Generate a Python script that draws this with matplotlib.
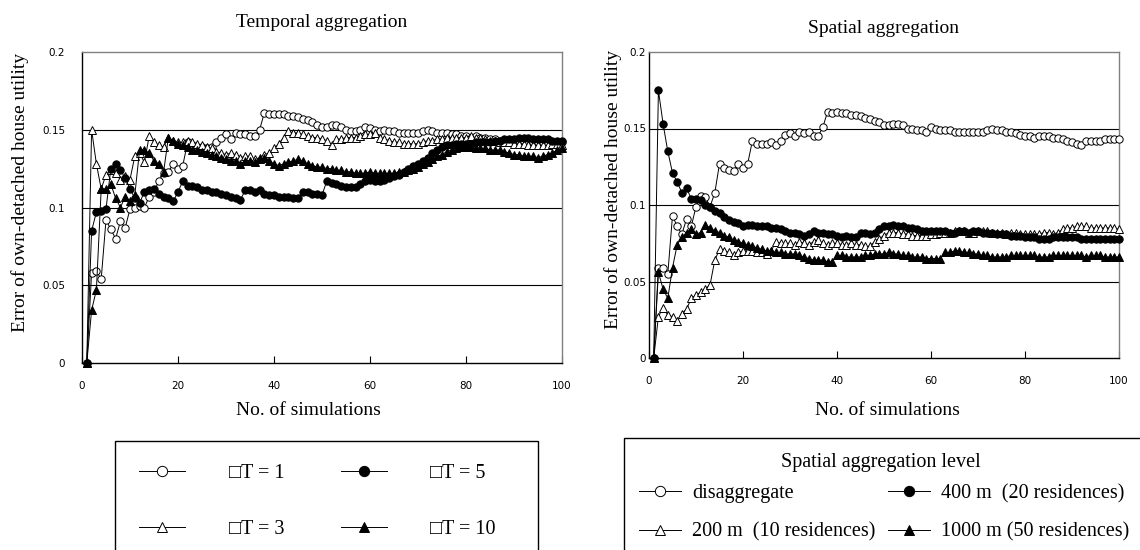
import numpy as np
import matplotlib
matplotlib.use("Agg")
import matplotlib.pyplot as plt
from matplotlib.patches import Rectangle

plt.rcParams['font.family'] = ['Liberation Serif', 'DejaVu Sans']

# ---------------- data ----------------
sims = list(range(1, 101))

temporal_labels = ["\u25a1T = 1", "\u25a1T = 3", "\u25a1T = 5", "\u25a1T = 10"]
t1 = [0, .058, .059, .054, .092, .086, .080, .091, .087, .099,
      .100, .101, .100, .107, .110, .117, .122, .123, .128, .125,
      .127, .142, .140, .139, .139, .138, .139, .142, .145, .147,
      .144, .148, .147, .147, .146, .146, .150, .161, .160, .160,
      .160, .160, .159, .159, .158, .157, .156, .155, .153, .152,
      .152, .153, .153, .152, .150, .149, .149, .150, .152, .151,
      .150, .149, .150, .149, .149, .148, .148, .148, .148, .148,
      .149, .150, .149, .148, .148, .148, .147, .147, .146, .146,
      .145, .146, .145, .145, .144, .144, .143, .143, .143, .142,
      .142, .142, .141, .142, .142, .142, .141, .141, .142, .142]
t3 = [0, .150, .128, .112, .121, .124, .122, .118, .120, .118,
      .133, .135, .129, .146, .142, .140, .139, .145, .143, .142,
      .142, .143, .142, .141, .140, .139, .138, .136, .135, .134,
      .135, .134, .132, .133, .133, .131, .132, .134, .135, .138,
      .141, .145, .149, .148, .148, .147, .146, .145, .145, .144,
      .143, .140, .144, .144, .145, .145, .145, .146, .147, .147,
      .148, .145, .144, .143, .142, .142, .141, .141, .141, .141,
      .142, .143, .143, .144, .144, .145, .145, .145, .145, .145,
      .146, .145, .145, .144, .143, .143, .142, .142, .142, .141,
      .141, .141, .140, .140, .140, .140, .140, .141, .141, .140]
t5 = [0, .085, .097, .098, .099, .125, .128, .124, .119, .112,
      .106, .103, .110, .111, .112, .109, .107, .106, .104, .110,
      .117, .114, .114, .113, .111, .111, .110, .110, .109, .108,
      .107, .106, .105, .111, .111, .110, .111, .109, .108, .108,
      .107, .107, .107, .106, .106, .110, .110, .109, .109, .108,
      .117, .116, .115, .114, .113, .113, .113, .115, .117, .118,
      .117, .117, .118, .119, .120, .121, .123, .125, .127, .128,
      .130, .132, .135, .137, .139, .140, .140, .141, .141, .141,
      .141, .142, .142, .142, .142, .143, .143, .144, .144, .144,
      .145, .145, .145, .144, .144, .144, .144, .143, .143, .143]
t10 = [0, .034, .047, .112, .112, .115, .106, .100, .107, .104,
       .108, .137, .137, .135, .130, .128, .123, .145, .143, .141,
       .140, .139, .137, .137, .136, .135, .134, .133, .132, .131,
       .130, .130, .128, .130, .130, .129, .131, .132, .130, .128,
       .127, .128, .129, .130, .131, .130, .128, .127, .126, .126,
       .125, .125, .124, .124, .123, .123, .122, .122, .122, .123,
       .122, .122, .122, .122, .122, .123, .123, .124, .125, .126,
       .128, .129, .131, .133, .134, .136, .137, .138, .139, .139,
       .139, .138, .138, .138, .137, .137, .137, .136, .135, .134,
       .134, .133, .133, .133, .132, .133, .134, .135, .137, .138]

spatial_title = "Spatial aggregation level"
spatial_labels = ["disaggregate", "200 m  (10 residences)",
                  "400 m  (20 residences)", "1000 m (50 residences)"]
s_dis = [0, .059, .059, .055, .093, .086, .081, .091, .086, .099,
         .106, .105, .099, .108, .127, .124, .123, .122, .127, .124,
         .127, .142, .140, .140, .140, .141, .139, .142, .146, .147,
         .145, .148, .147, .148, .145, .145, .151, .161, .160, .161,
         .160, .160, .159, .159, .158, .157, .156, .155, .154, .152,
         .152, .153, .153, .152, .150, .150, .149, .149, .148, .151,
         .150, .149, .149, .149, .148, .148, .148, .148, .148, .148,
         .148, .149, .150, .149, .149, .148, .148, .147, .146, .145,
         .145, .144, .145, .145, .145, .144, .144, .143, .142, .141,
         .140, .139, .142, .142, .142, .142, .143, .143, .143, .143]
s_200 = [0, .027, .033, .028, .027, .024, .029, .032, .039, .041,
         .043, .045, .048, .064, .071, .070, .069, .067, .069, .070,
         .070, .070, .069, .069, .068, .070, .076, .075, .075, .075,
         .074, .076, .075, .074, .076, .077, .075, .074, .075, .075,
         .074, .074, .075, .074, .074, .073, .073, .076, .078, .080,
         .082, .082, .082, .081, .081, .080, .080, .080, .080, .081,
         .081, .082, .082, .082, .083, .083, .083, .082, .082, .083,
         .083, .083, .082, .082, .082, .081, .082, .082, .081, .081,
         .081, .081, .081, .082, .082, .081, .082, .084, .085, .085,
         .086, .086, .086, .085, .085, .085, .085, .085, .085, .084]
s_400 = [0, .175, .153, .135, .121, .115, .108, .111, .104, .104,
         .103, .100, .099, .096, .095, .092, .090, .089, .088, .086,
         .087, .087, .086, .086, .086, .085, .085, .084, .083, .082,
         .082, .081, .080, .081, .083, .082, .082, .081, .081, .080,
         .079, .080, .079, .079, .082, .082, .081, .082, .084, .086,
         .086, .087, .086, .086, .085, .085, .084, .083, .083, .083,
         .083, .083, .083, .082, .082, .083, .083, .082, .083, .083,
         .082, .082, .082, .081, .081, .081, .080, .080, .080, .079,
         .079, .079, .078, .078, .078, .079, .079, .079, .079, .079,
         .079, .078, .078, .078, .078, .078, .078, .078, .078, .078]
s_1000 = [0, .056, .045, .039, .059, .074, .079, .082, .084, .081,
          .082, .087, .085, .083, .082, .080, .079, .077, .076, .075,
          .074, .073, .072, .071, .070, .070, .069, .069, .068, .068,
          .068, .067, .066, .065, .064, .064, .064, .063, .063, .067,
          .067, .066, .066, .066, .066, .067, .067, .068, .068, .068,
          .069, .068, .068, .067, .067, .066, .066, .066, .065, .065,
          .065, .065, .069, .069, .070, .070, .069, .069, .068, .068,
          .067, .067, .066, .066, .066, .066, .067, .067, .067, .067,
          .067, .067, .066, .066, .066, .067, .067, .067, .067, .067,
          .067, .067, .066, .067, .067, .067, .066, .066, .066, .066]

x_ticks = [0, 20, 40, 60, 80, 100]
y_ticks = [0, 0.05, 0.1, 0.15, 0.2]
y_tick_labels = ["0", "0.05", "0.1", "0.15", "0.2"]
ylabel = "Error of own-detached house utility"
xlabel = "No. of simulations"
titles = ["Temporal aggregation", "Spatial aggregation"]

# ---------------- figure ----------------
W, H = 1140, 550
fig = plt.figure(figsize=(W / 100, H / 100), dpi=100)


def px_axes(l, t, r, b):
    return fig.add_axes([l / W, 1 - b / H, (r - l) / W, (b - t) / H])


def px_box(l, t, r, b):
    fig.patches.append(Rectangle((l / W, 1 - b / H), (r - l) / W, (b - t) / H,
                                 transform=fig.transFigure, fill=False,
                                 edgecolor='black', lw=1.0))


ax1 = px_axes(82, 52, 562, 363)
ax2 = px_axes(649, 52, 1119, 358)

styles = [dict(marker='o', mfc='white'), dict(marker='^', mfc='white'),
          dict(marker='o', mfc='black'), dict(marker='^', mfc='black')]


def setup(ax):
    ax.set_xlim(0, 100)
    ax.set_ylim(0, 0.2)
    ax.set_xticks(x_ticks)
    ax.set_yticks(y_ticks)
    ax.set_yticklabels(y_tick_labels)
    for v in y_ticks[1:-1]:
        ax.axhline(v, color='black', lw=0.8, zorder=1)
    ax.spines['top'].set_color('#808080')
    ax.spines['right'].set_color('#808080')
    ax.spines['left'].set_color('black')
    ax.spines['bottom'].set_color('black')
    for s in ax.spines.values():
        s.set_linewidth(1.0)
    ax.tick_params(axis='x', direction='in', length=5, width=0.8, pad=13,
                   labelsize=7.5)
    ax.tick_params(axis='y', length=0, labelsize=7.5)
    for lab in ax.get_xticklabels() + ax.get_yticklabels():
        lab.set_family('DejaVu Sans')


def plot_series(ax, series, labels):
    handles = []
    for ys, st, lab in zip(series, styles, labels):
        h, = ax.plot(sims, ys, color='black', lw=0.7, ms=5.3, mec='black',
                     mew=0.7, label=lab, clip_on=False, zorder=3, **st)
        handles.append(h)
    return handles


FS = 14

setup(ax1)
h1 = plot_series(ax1, [t1, t3, t5, t10], temporal_labels)
ax1.tick_params(axis='y', pad=12)
ax1.set_title(titles[0], fontsize=FS, pad=18)
ax1.set_xlabel(xlabel, fontsize=FS)
ax1.xaxis.set_label_coords(0.471, -0.125)
ax1.set_ylabel(ylabel, fontsize=FS)
ax1.yaxis.set_label_coords(-0.11, 0.55)

setup(ax2)
h2 = plot_series(ax2, [s_dis, s_200, s_400, s_1000], spatial_labels)
ax2.tick_params(axis='y', pad=2)
ax2.set_title(titles[1], fontsize=FS, pad=14)
ax2.set_xlabel(xlabel, fontsize=FS)
ax2.xaxis.set_label_coords(0.508, -0.143)
ax2.set_ylabel(ylabel, fontsize=FS)
ax2.yaxis.set_label_coords(-0.058, 0.55)

# left legend
px_box(115, 441, 538, 565)
fig.legend(h1, temporal_labels, ncol=2, loc='upper left',
           bbox_to_anchor=(117 / W, 1 - 442 / H), borderaxespad=0,
           frameon=False, fontsize=14.5, handlelength=2.3,
           handletextpad=2.15, columnspacing=2.8, labelspacing=1.8,
           borderpad=1.1, markerscale=1.4, numpoints=1)

# right legend
px_box(624, 438, 1150, 565)
fig.text(881 / W, 1 - 462 / H, spatial_title, fontsize=14.5,
         ha='center', va='center')
fig.legend(h2, spatial_labels, ncol=2, loc='upper left',
           bbox_to_anchor=(623 / W, 1 - 468 / H), borderaxespad=0,
           frameon=False, fontsize=14.5, handlelength=2.1,
           handletextpad=0.55, columnspacing=0.6, labelspacing=0.95,
           borderpad=0.8, markerscale=1.4, numpoints=1)

fig.savefig("out.png", dpi=100)
